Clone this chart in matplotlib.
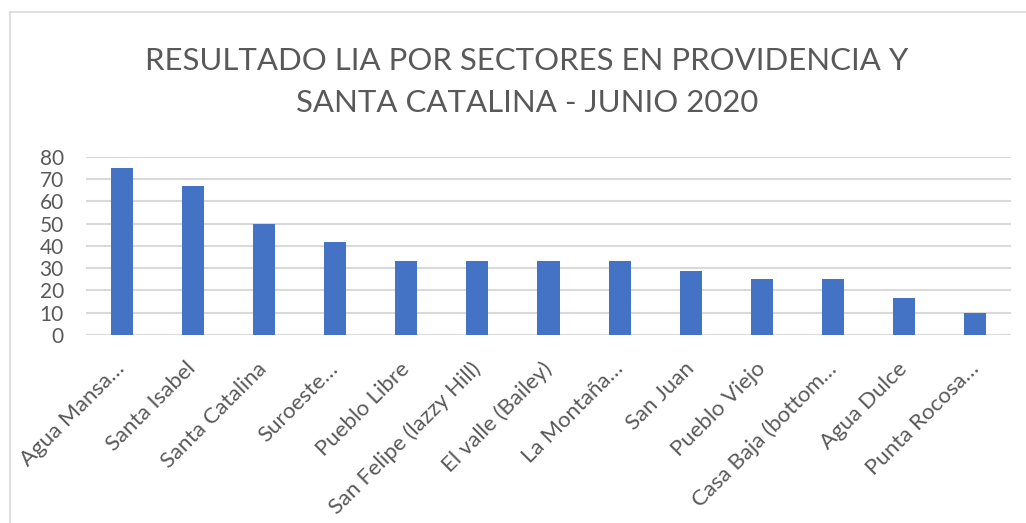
import matplotlib
matplotlib.use("Agg")
import matplotlib.pyplot as plt
from matplotlib.lines import Line2D

categories = ["Agua Mansa…", "Santa Isabel", "Santa Catalina", "Suroeste…",
              "Pueblo Libre", "San Felipe (lazzy Hill)", "El valle (Bailey)",
              "La Montaña…", "San Juan", "Pueblo Viejo", "Casa Baja (bottom…",
              "Agua Dulce", "Punta Rocosa…"]
values = [75, 66.7, 50, 41.7, 33.3, 33.3, 33.3, 33.3, 28.6, 25, 25, 16.7, 10]
yticks = [0, 10, 20, 30, 40, 50, 60, 70, 80]
title = "RESULTADO LIA POR SECTORES EN PROVIDENCIA Y\nSANTA CATALINA - JUNIO 2020"

W, H = 1026, 523
fig = plt.figure(figsize=(W / 100, H / 100), dpi=100)
plt.rcParams['font.family'] = ['Lato', 'DejaVu Sans']
txt = "#595959"

ax = fig.add_axes([86 / W, (H - 335) / H, 925 / W, (335 - 156.7) / H])
x = list(range(len(categories)))
ax.bar(x, values, width=0.31, color="#4472C4", zorder=3)
ax.set_xlim(-0.5, len(categories) - 0.5)
ax.set_ylim(0, 80)
ax.set_yticks(yticks)
ax.set_yticklabels([str(t) for t in yticks])
ax.yaxis.grid(True, color="#d9d9d9", linewidth=1.5, zorder=0)
ax.set_axisbelow(True)
for s in ax.spines.values():
    s.set_visible(False)
ax.tick_params(axis="y", length=0, pad=16, labelsize=15, labelcolor=txt)
ax.tick_params(axis="x", length=0, pad=22, labelsize=16, labelcolor=txt)
ax.set_xticks(x)
ax.set_xticklabels(categories, rotation=45, ha="right", va="center",
                   rotation_mode="anchor")

fig.text(527 / W, 1 - 82 / H, title, ha="center", va="center", fontsize=22.4,
         color=txt, linespacing=1.62)

# chart border (top and left)
fig.add_artist(Line2D([10 / W, 1], [1 - 12 / H, 1 - 12 / H], transform=fig.transFigure,
                      color="#d9d9d9", linewidth=1.2))
fig.add_artist(Line2D([10 / W, 10 / W], [0, 1 - 12 / H], transform=fig.transFigure,
                      color="#d9d9d9", linewidth=1.2))

fig.savefig("out.png", dpi=100, facecolor="white")
